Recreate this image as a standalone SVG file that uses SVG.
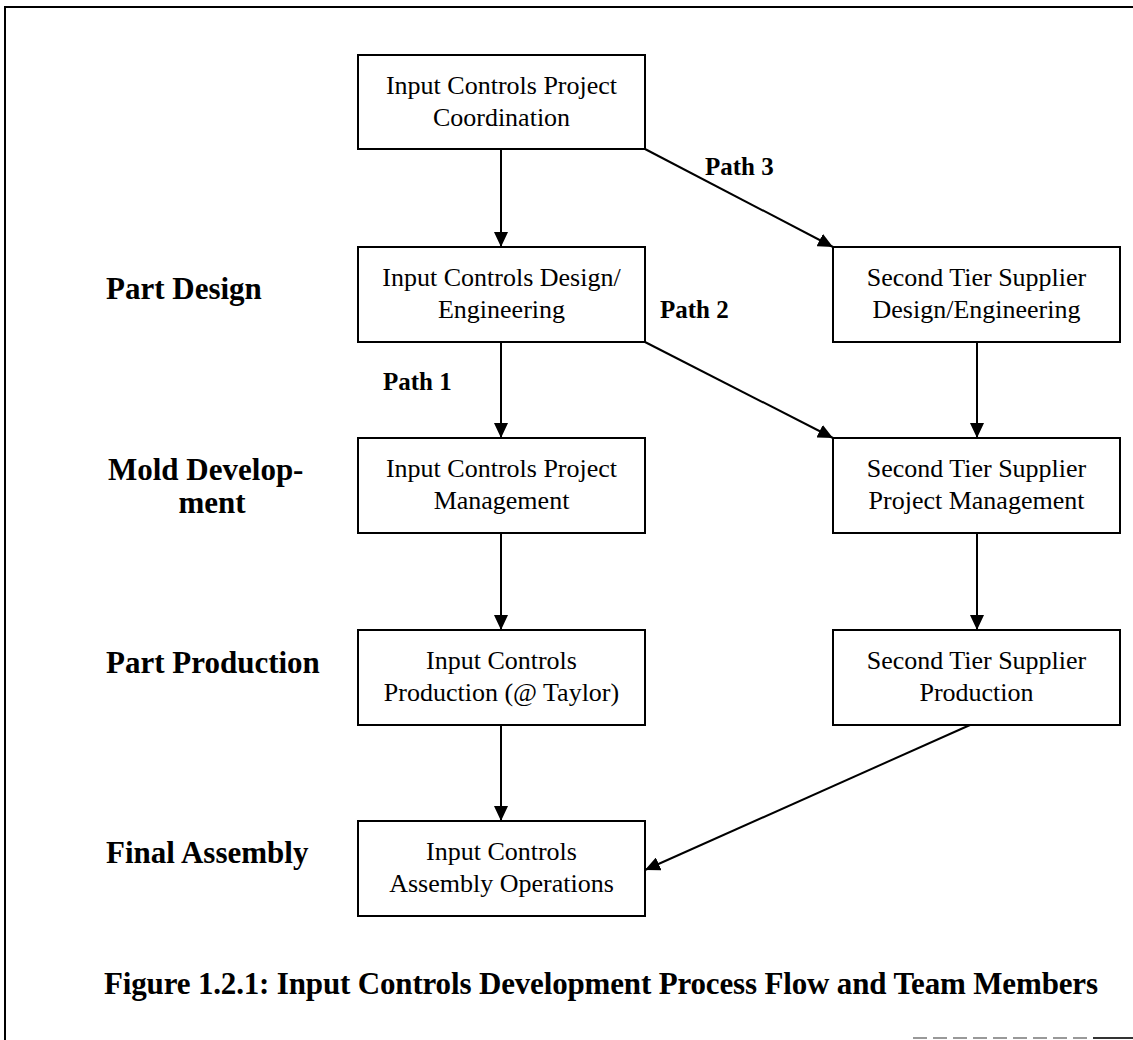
<svg xmlns="http://www.w3.org/2000/svg" width="1133" height="1040" viewBox="0 0 1133 1040">
  <defs>
    <marker id="arrow" markerWidth="15" markerHeight="14" refX="15" refY="7" orient="auto" markerUnits="userSpaceOnUse">
      <path d="M0,0 L15,7 L0,14 Z" fill="#000"/>
    </marker>
  </defs>
  <style>
    .box { fill: #fff; stroke: #000; stroke-width: 2; }
    .node { font-family: "Liberation Serif", "Times New Roman", serif; font-size: 26px; fill: #000; text-anchor: middle; }
    .stage { font-family: "Liberation Serif", "Times New Roman", serif; font-size: 31px; font-weight: bold; fill: #000; }
    .path { font-family: "Liberation Serif", "Times New Roman", serif; font-size: 25px; font-weight: bold; fill: #000; }
    .caption { font-family: "Liberation Serif", "Times New Roman", serif; font-size: 31px; font-weight: bold; fill: #000; }
    .edge { stroke: #000; stroke-width: 2; fill: none; marker-end: url(#arrow); }
    .frame { stroke: #000; stroke-width: 2; fill: none; }
  </style>
  <rect width="1133" height="1040" fill="#fff"/>

  <!-- page frame -->
  <g id="frame">
    <path class="frame" d="M5,1040 L5,7 L1133,7"/>
    <line x1="913" y1="1038" x2="1093" y2="1038" stroke="#999" stroke-width="2" stroke-dasharray="14,6"/>
    <line x1="1093" y1="1038" x2="1133" y2="1038" stroke="#333" stroke-width="2"/>
  </g>

  <!-- connectors -->
  <g id="connectors">
    <line class="edge" x1="501" y1="149" x2="501" y2="247"/>
    <line class="edge" x1="645" y1="149" x2="833" y2="247"/>
    <line class="edge" x1="501" y1="342" x2="501" y2="438"/>
    <line class="edge" x1="645" y1="342" x2="833" y2="438"/>
    <line class="edge" x1="977" y1="342" x2="977" y2="438"/>
    <line class="edge" x1="501" y1="533" x2="501" y2="630"/>
    <line class="edge" x1="977" y1="533" x2="977" y2="630"/>
    <line class="edge" x1="501" y1="725" x2="501" y2="821"/>
    <line class="edge" x1="970" y1="725" x2="645" y2="870"/>
  </g>

  <!-- stage labels -->
  <g id="stages">
    <text class="stage" x="106" y="299">Part Design</text>
    <text class="stage" x="108" y="480">Mold Develop-</text>
    <text class="stage" x="212" y="513" text-anchor="middle">ment</text>
    <text class="stage" x="106" y="673">Part Production</text>
    <text class="stage" x="106" y="863">Final Assembly</text>
  </g>

  <!-- path labels -->
  <g id="path-labels">
    <text class="path" x="705" y="175">Path 3</text>
    <text class="path" x="660" y="318">Path 2</text>
    <text class="path" x="383" y="390">Path 1</text>
  </g>

  <g id="coordination">
    <rect class="box" x="358" y="55" width="287" height="94"/>
    <text class="node" x="501.5" y="94">Input Controls Project</text>
    <text class="node" x="501.5" y="126">Coordination</text>
  </g>

  <g id="ic-design">
    <rect class="box" x="358" y="247" width="287" height="95"/>
    <text class="node" x="501.5" y="286">Input Controls Design/</text>
    <text class="node" x="501.5" y="318">Engineering</text>
  </g>

  <g id="sts-design">
    <rect class="box" x="833" y="247" width="287" height="95"/>
    <text class="node" x="976.5" y="286">Second Tier Supplier</text>
    <text class="node" x="976.5" y="318">Design/Engineering</text>
  </g>

  <g id="ic-pm">
    <rect class="box" x="358" y="438" width="287" height="95"/>
    <text class="node" x="501.5" y="477">Input Controls Project</text>
    <text class="node" x="501.5" y="509">Management</text>
  </g>

  <g id="sts-pm">
    <rect class="box" x="833" y="438" width="287" height="95"/>
    <text class="node" x="976.5" y="477">Second Tier Supplier</text>
    <text class="node" x="976.5" y="509">Project Management</text>
  </g>

  <g id="ic-production">
    <rect class="box" x="358" y="630" width="287" height="95"/>
    <text class="node" x="501.5" y="669">Input Controls</text>
    <text class="node" x="501.5" y="701">Production (@ Taylor)</text>
  </g>

  <g id="sts-production">
    <rect class="box" x="833" y="630" width="287" height="95"/>
    <text class="node" x="976.5" y="669">Second Tier Supplier</text>
    <text class="node" x="976.5" y="701">Production</text>
  </g>

  <g id="ic-assembly">
    <rect class="box" x="358" y="821" width="287" height="95"/>
    <text class="node" x="501.5" y="860">Input Controls</text>
    <text class="node" x="501.5" y="892">Assembly Operations</text>
  </g>

  <text class="caption" x="104" y="994" textLength="994" lengthAdjust="spacing">Figure 1.2.1:  Input Controls Development Process Flow and Team Members</text>
</svg>
